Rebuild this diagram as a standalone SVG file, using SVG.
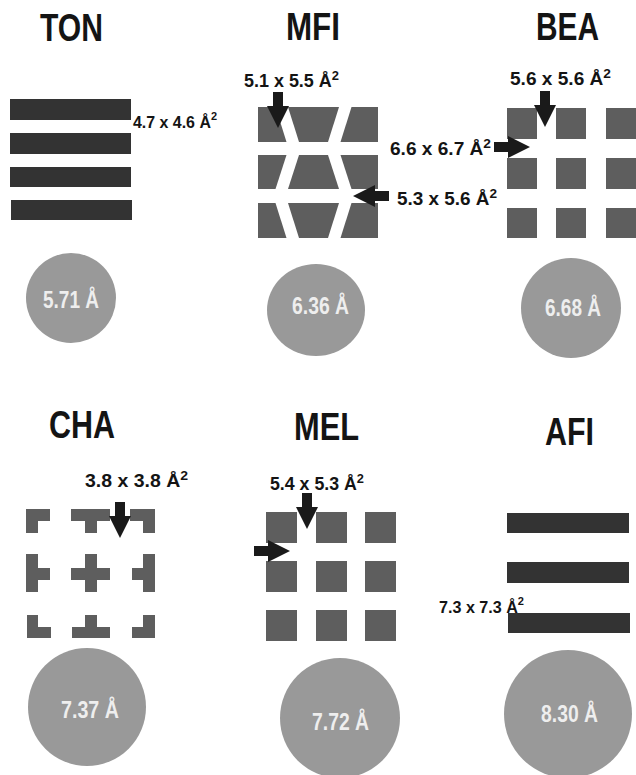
<svg xmlns="http://www.w3.org/2000/svg" xmlns:xlink="http://www.w3.org/1999/xlink" width="636" height="775" viewBox="0 0 636 775">
<style>
text{font-family:"Liberation Sans Narrow","Arial Narrow","Liberation Sans",Arial,sans-serif;font-weight:bold;}
.title{font-size:38px;fill:#141414;}
.lbl{font-size:18px;fill:#141414;}
.lbls{font-size:16px;fill:#141414;}
.sup{font-size:13px;}
.sups{font-size:11px;}
.bar{fill:#333333;}
.blk{fill:#5e5e5e;}
.pore{fill:#999999;}
.ptxt{font-size:23px;fill:#eeeeee;}
.arr{fill:#1a1a1a;}
</style>
<defs>
<path id="arrow" d="M-5,-36 H5 V-22 H11 L0,0 L-11,-22 H-5 Z"/>
</defs>
<rect width="636" height="775" fill="#ffffff"/>

<g id="TON">
<text class="title" x="40" y="41" textLength="63" lengthAdjust="spacingAndGlyphs">TON</text>
<rect class="bar" x="10" y="99" width="121" height="21"/>
<rect class="bar" x="10" y="133" width="121" height="21"/>
<rect class="bar" x="10" y="167" width="121" height="20"/>
<rect class="bar" x="11" y="200" width="121" height="20"/>
<text class="lbls" x="133" y="128" textLength="84" lengthAdjust="spacingAndGlyphs">4.7 x 4.6 Å<tspan class="sups" dy="-8">2</tspan></text>
<circle class="pore" cx="71" cy="298" r="45"/>
<text class="ptxt" x="43" y="308" textLength="56" lengthAdjust="spacingAndGlyphs">5.71 Å</text>
</g>

<g id="MFI">
<text class="title" x="286" y="40" textLength="54" lengthAdjust="spacingAndGlyphs">MFI</text>
<text class="lbl" x="244" y="87" textLength="95" lengthAdjust="spacingAndGlyphs">5.1 x 5.5 Å<tspan class="sup" dy="-7">2</tspan></text>
<polygon class="blk" points="258,107 275.5,107 286.5,142 258,142"/>
<polygon class="blk" points="288,107 339,107 328,142 299,142"/>
<polygon class="blk" points="351.5,107 378,107 378,142 340.5,142"/>
<polygon class="blk" points="258,155 286.5,155 275.5,189 258,189"/>
<polygon class="blk" points="299,155 328,155 339,189 288,189"/>
<polygon class="blk" points="340.5,155 378,155 378,189 351.5,189"/>
<polygon class="blk" points="258,203 275.5,203 286.5,238 258,238"/>
<polygon class="blk" points="288,203 339,203 328,238 299,238"/>
<polygon class="blk" points="351.5,203 378,203 378,238 340.5,238"/>
<text class="lbl" x="397" y="205" textLength="100" lengthAdjust="spacingAndGlyphs">5.3 x 5.6 Å<tspan class="sup" dy="-7">2</tspan></text>
<ellipse class="pore" cx="316" cy="310" rx="49" ry="46"/>
<text class="ptxt" x="292" y="314" textLength="57" lengthAdjust="spacingAndGlyphs">6.36 Å</text>
</g>

<g id="BEA">
<text class="title" x="536" y="40" textLength="63" lengthAdjust="spacingAndGlyphs">BEA</text>
<text class="lbl" x="510" y="85" textLength="101" lengthAdjust="spacingAndGlyphs">5.6 x 5.6 Å<tspan class="sup" dy="-7">2</tspan></text>
<rect class="blk" x="507" y="108" width="30" height="31"/>
<rect class="blk" x="556" y="108" width="30" height="31"/>
<rect class="blk" x="606" y="108" width="30" height="31"/>
<rect class="blk" x="507" y="158" width="30" height="31"/>
<rect class="blk" x="556" y="158" width="30" height="31"/>
<rect class="blk" x="606" y="158" width="30" height="31"/>
<rect class="blk" x="507" y="208" width="30" height="30"/>
<rect class="blk" x="556" y="208" width="30" height="30"/>
<rect class="blk" x="606" y="208" width="30" height="30"/>
<text class="lbl" x="390" y="155" textLength="101" lengthAdjust="spacingAndGlyphs">6.6 x 6.7 Å<tspan class="sup" dy="-7">2</tspan></text>
<circle class="pore" cx="571" cy="308" r="50"/>
<text class="ptxt" x="545" y="316" textLength="56" lengthAdjust="spacingAndGlyphs">6.68 Å</text>
</g>

<g id="CHA">
<text class="title" x="49" y="438" textLength="66" lengthAdjust="spacingAndGlyphs">CHA</text>
<text class="lbl" x="85" y="487" textLength="103" lengthAdjust="spacingAndGlyphs">3.8 x 3.8 Å<tspan class="sup" dy="-7">2</tspan></text>
<path class="blk" d="M26,509 H50 V521 H38 V533 H26 Z"/>
<path class="blk" d="M71,509 H110 V521 H97 V533 H85 V521 H71 Z"/>
<path class="blk" d="M130,509 H155 V533 H143 V521 H130 Z"/>
<path class="blk" d="M26,554 H38 V568 H50 V580 H38 V592 H26 Z"/>
<path class="blk" d="M85,554 H97 V568 H110 V580 H97 V592 H85 V580 H71 V568 H85 Z"/>
<path class="blk" d="M143,554 H155 V592 H143 V580 H132 V568 H143 Z"/>
<path class="blk" d="M27,615 H38 V627 H51 V638 H27 Z"/>
<path class="blk" d="M85,615 H97 V627 H110 V638 H72 V627 H85 Z"/>
<path class="blk" d="M143,615 H155 V638 H132 V627 H143 Z"/>
<circle class="pore" cx="87" cy="707" r="59"/>
<text class="ptxt" x="61" y="718" textLength="58" lengthAdjust="spacingAndGlyphs">7.37 Å</text>
</g>

<g id="MEL">
<text class="title" x="294" y="440" textLength="65" lengthAdjust="spacingAndGlyphs">MEL</text>
<text class="lbl" x="270" y="490" textLength="94" lengthAdjust="spacingAndGlyphs">5.4 x 5.3 Å<tspan class="sup" dy="-7">2</tspan></text>
<rect class="blk" x="266" y="512" width="31" height="31"/>
<rect class="blk" x="316" y="512" width="31" height="31"/>
<rect class="blk" x="365" y="512" width="31" height="31"/>
<rect class="blk" x="266" y="561" width="31" height="31"/>
<rect class="blk" x="316" y="561" width="31" height="31"/>
<rect class="blk" x="365" y="561" width="31" height="31"/>
<rect class="blk" x="266" y="610" width="31" height="31"/>
<rect class="blk" x="316" y="610" width="31" height="31"/>
<rect class="blk" x="365" y="610" width="31" height="31"/>
<circle class="pore" cx="340" cy="718" r="60"/>
<text class="ptxt" x="312" y="730" textLength="57" lengthAdjust="spacingAndGlyphs">7.72 Å</text>
</g>

<g id="AFI">
<text class="title" x="545" y="445" textLength="49" lengthAdjust="spacingAndGlyphs">AFI</text>
<rect class="bar" x="507" y="513" width="122" height="20"/>
<rect class="bar" x="507" y="562" width="122" height="21"/>
<rect class="bar" x="508" y="613" width="122" height="20"/>
<text class="lbls" x="439" y="613" textLength="85" lengthAdjust="spacingAndGlyphs">7.3 x 7.3 Å<tspan class="sups" dy="-8">2</tspan></text>
<circle class="pore" cx="568" cy="714" r="64"/>
<text class="ptxt" x="541" y="722" textLength="57" lengthAdjust="spacingAndGlyphs">8.30 Å</text>
</g>

<g id="connectors">
<use xlink:href="#arrow" class="arr" transform="translate(278,128)"/>
<use xlink:href="#arrow" class="arr" transform="translate(353,196) rotate(90)"/>
<use xlink:href="#arrow" class="arr" transform="translate(545,127)"/>
<use xlink:href="#arrow" class="arr" transform="translate(530,147) rotate(-90)"/>
<use xlink:href="#arrow" class="arr" transform="translate(120,538)"/>
<use xlink:href="#arrow" class="arr" transform="translate(307,529)"/>
<use xlink:href="#arrow" class="arr" transform="translate(290,551) rotate(-90)"/>
</g>
</svg>
